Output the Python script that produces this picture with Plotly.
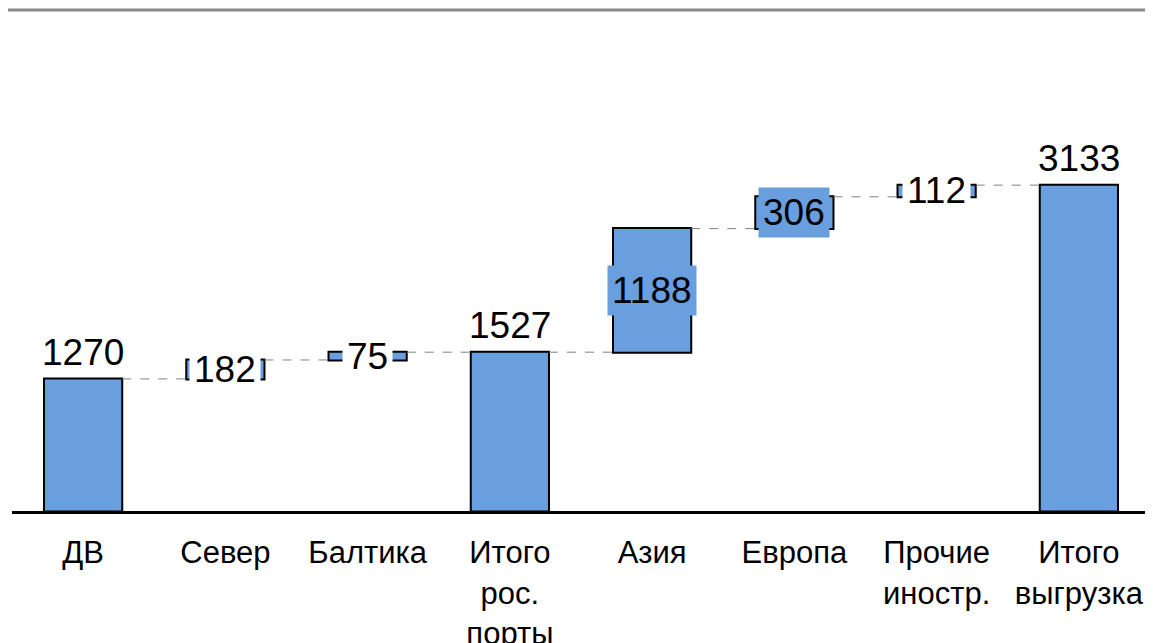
import plotly.graph_objects as go

categories = ["ДВ", "Север", "Балтика", "Итого<br>рос.<br>порты", "Азия", "Европа", "Прочие<br>иностр.", "Итого<br>выгрузка"]
values = [1270, 182, 75, 1527, 1188, 306, 112, 3133]
measures = ["absolute", "relative", "relative", "total", "relative", "relative", "relative", "total"]
label_bg = [None, "white", "white", None, "#699EDF", "#699EDF", "white", None]

BAR = "#699EDF"

fig = go.Figure()
fig.add_trace(go.Waterfall(
    x=categories, y=values, measure=measures,
    width=0.55,
    increasing=dict(marker=dict(color=BAR, line=dict(color="black", width=2))),
    decreasing=dict(marker=dict(color=BAR, line=dict(color="black", width=2))),
    totals=dict(marker=dict(color=BAR, line=dict(color="black", width=2))),
    connector=dict(mode="between", line=dict(color="#808080", width=1, dash="dash")),
    textinfo="none", hoverinfo="skip",
))

annotations = []
run = 0
for cat, v, m, bg in zip(categories, values, measures, label_bg):
    if m == "total":
        top = run
        annotations.append(dict(x=cat, y=top, text=str(v), showarrow=False, yanchor="bottom",
                                yshift=4, font=dict(size=37, color="black")))
    else:
        start = run if m == "relative" else 0
        run = start + v
        if bg is None:
            annotations.append(dict(x=cat, y=run, text=str(v), showarrow=False, yanchor="bottom",
                                    yshift=4, font=dict(size=37, color="black")))
        else:
            annotations.append(dict(x=cat, y=(start + run) / 2, text=str(v), showarrow=False,
                                    yanchor="middle", bgcolor=bg, borderpad=4,
                                    font=dict(size=37, color="black")))

fig.update_layout(
    width=1145, height=635,
    margin=dict(l=4, r=3, t=2, b=132, autoexpand=False),
    paper_bgcolor="white", plot_bgcolor="white",
    showlegend=False,
    font=dict(family="Liberation Sans, Arial, sans-serif", color="black"),
    annotations=annotations,
    shapes=[dict(type="line", xref="paper", yref="paper", x0=-0.02, x1=1.01, y0=1.0, y1=1.0,
                 line=dict(color="#8a8a8a", width=3))],
    xaxis=dict(showline=True, linecolor="black", linewidth=3, ticks="", tickfont=dict(size=31),
               ticklabelstandoff=12, showgrid=False, zeroline=False, automargin=False),
    yaxis=dict(visible=False, range=[0, 4817], showgrid=False, zeroline=False, automargin=False),
)

fig.write_html("out.html")
